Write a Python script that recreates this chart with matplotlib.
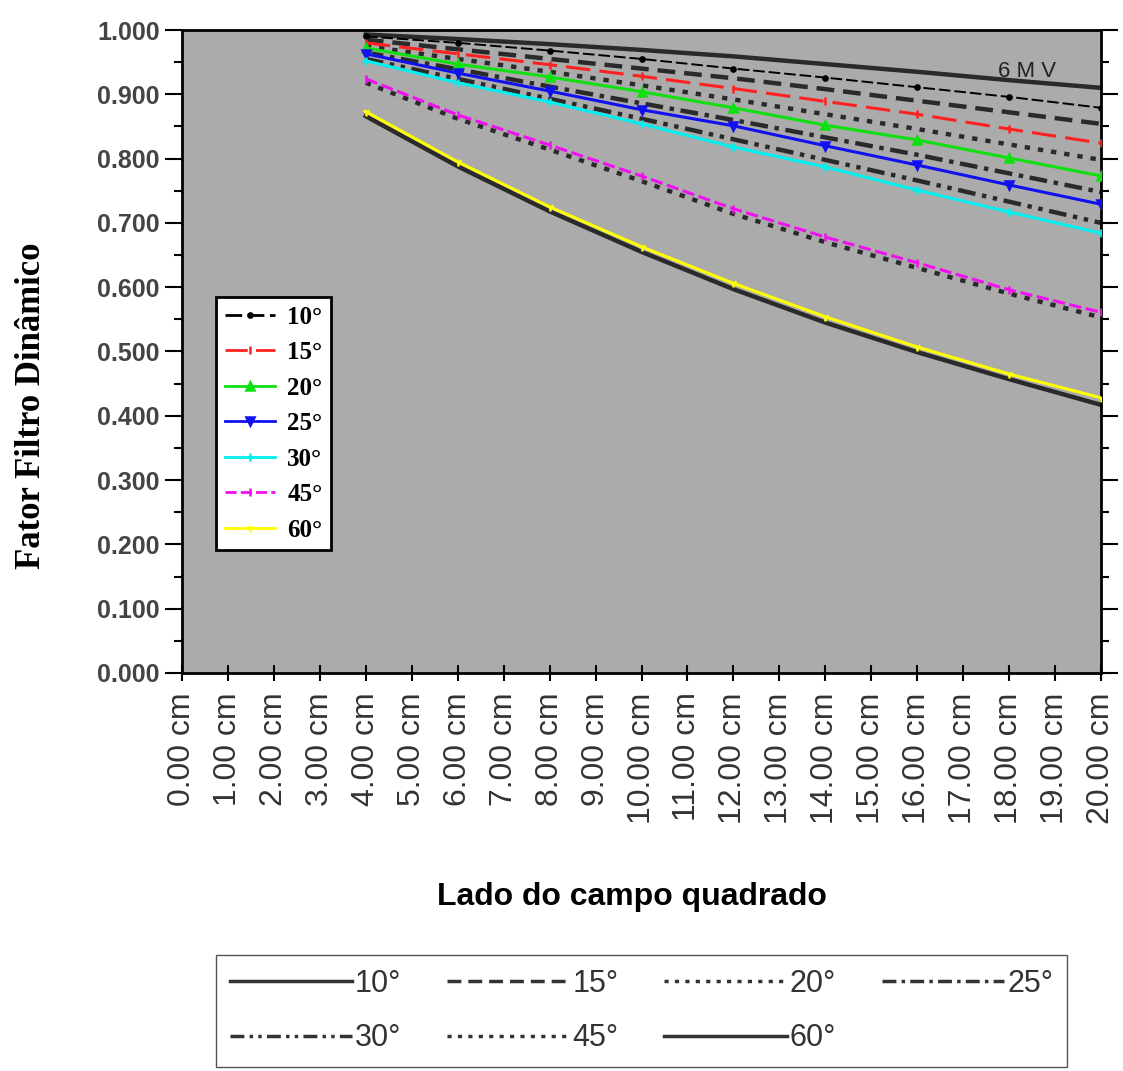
import matplotlib
matplotlib.use("Agg")
import matplotlib.pyplot as plt
from matplotlib.lines import Line2D
from matplotlib.ticker import MultipleLocator, FormatStrFormatter

# ---- data ----
x_cm = [4, 6, 8, 10, 12, 14, 16, 18, 20]
tick_labels = [f"{v:.2f} cm" for v in range(0, 21)]
angles = ["10°", "15°", "20°", "25°", "30°", "45°", "60°"]

# measured (coloured overlay) dynamic-wedge factors
ff_10 = [0.990, 0.980, 0.968, 0.955, 0.940, 0.926, 0.911, 0.896, 0.879]
ff_15 = [0.980, 0.963, 0.946, 0.928, 0.909, 0.889, 0.869, 0.846, 0.824]
ff_20 = [0.972, 0.947, 0.927, 0.904, 0.879, 0.852, 0.829, 0.801, 0.773]
ff_25 = [0.963, 0.933, 0.905, 0.876, 0.851, 0.820, 0.790, 0.759, 0.729]
ff_30 = [0.952, 0.918, 0.888, 0.854, 0.818, 0.787, 0.751, 0.717, 0.684]
ff_45 = [0.924, 0.868, 0.821, 0.773, 0.722, 0.678, 0.638, 0.596, 0.561]
ff_60 = [0.873, 0.795, 0.725, 0.663, 0.606, 0.554, 0.507, 0.465, 0.428]

# reference (original black) curves, 6 MV
ref_10 = [0.993, 0.986, 0.978, 0.969, 0.959, 0.947, 0.935, 0.922, 0.910]
ref_15 = [0.985, 0.970, 0.955, 0.940, 0.925, 0.908, 0.890, 0.872, 0.854]
ref_20 = [0.975, 0.955, 0.935, 0.914, 0.892, 0.869, 0.846, 0.822, 0.798]
ref_25 = [0.965, 0.939, 0.912, 0.886, 0.860, 0.833, 0.806, 0.777, 0.748]
ref_30 = [0.955, 0.924, 0.893, 0.862, 0.830, 0.798, 0.766, 0.733, 0.700]
ref_45 = [0.918, 0.862, 0.814, 0.765, 0.714, 0.670, 0.630, 0.590, 0.553]
ref_60 = [0.866, 0.788, 0.718, 0.655, 0.597, 0.545, 0.499, 0.457, 0.417]

measured = [ff_10, ff_15, ff_20, ff_25, ff_30, ff_45, ff_60]
reference = [ref_10, ref_15, ref_20, ref_25, ref_30, ref_45, ref_60]

colors = ["black", "#ff2020", "#10e010", "#1010f0", "#00f0f0", "#f010f0", "#ffff00"]
markers = [".", "|", "^", "v", "+", "|", "1"]
meas_styles = [(0, (6, 2)), (0, (8, 3)), "-", "-", "-", (0, (4, 1.5)), "-"]
ref_styles = ["-", (0, (4, 2)), (0, (1.2, 1.8)), (0, (4, 1.5, 1, 1.5)),
              (0, (4, 1.5, 1, 1.5, 1, 1.5)), (0, (1.2, 1.8)), "-"]

# ---- figure ----
fig = plt.figure(figsize=(11.23, 10.71), dpi=100)
ax = fig.add_axes([182 / 1123, 1 - 673 / 1071, (1101 - 182) / 1123, (673 - 30) / 1071])
ax.set_facecolor("#ababab")

for ys, ls in zip(reference, ref_styles):
    ax.plot(x_cm, ys, color="#2a2a2a", lw=3.2, linestyle=ls, zorder=2)

for ys, c, m, ls in zip(measured, colors, markers, meas_styles):
    lw = 1.4 if c == "black" else 2.2
    ax.plot(x_cm, ys, color=c, lw=lw, linestyle=ls, marker=m, markersize=6,
            markeredgewidth=1.8, zorder=3)

ax.text(18.4, 0.935, "6 M V", fontsize=16, color="#222222", ha="center",
        va="center", family="Liberation Sans", zorder=4)

ax.set_xlim(0, 20)
ax.set_ylim(0, 1.0)
ax.set_xticks(range(0, 21))
ax.set_xticklabels(tick_labels, rotation=90, fontsize=23, color="#333333",
                   family="Liberation Sans")
ax.yaxis.set_major_locator(MultipleLocator(0.1))
ax.yaxis.set_minor_locator(MultipleLocator(0.05))
ax.yaxis.set_major_formatter(FormatStrFormatter("%.3f"))
for lab in ax.get_yticklabels():
    lab.set_fontsize(18)
    lab.set_color("#444444")
    lab.set_family("Liberation Sans")
    lab.set_fontweight("bold")
ax.tick_params(axis="y", which="major", direction="out", length=12, width=1.5, pad=4)
ax.tick_params(axis="y", which="minor", direction="out", length=6, width=1.5)
ax.tick_params(axis="y", which="both", right=True, labelright=False)
ax.tick_params(axis="x", which="major", direction="inout", length=12, width=1.5, pad=8)
for s in ax.spines.values():
    s.set_linewidth(2)

ax.set_ylabel("Fator Filtro Dinâmico", fontsize=25, fontweight="bold",
              family="Liberation Serif")
ax.yaxis.set_label_coords(-0.146, 0.415)
ax.set_xlabel("Lado do campo quadrado", fontsize=23, fontweight="bold",
              family="Liberation Sans")
ax.xaxis.set_label_coords(0.49, -0.325)

# coloured legend inside the axes
handles_in = [Line2D([], [], color=c, marker=m, linestyle=ls, lw=2, markersize=6,
                     markeredgewidth=1.8)
              for c, m, ls in zip(colors, markers, meas_styles)]
leg_in = ax.legend(handles_in, angles, loc="upper left",
                   bbox_to_anchor=(0.037, 0.585), borderaxespad=0,
                   frameon=True, fancybox=False, edgecolor="black",
                   facecolor="white", framealpha=1, handlelength=2.0,
                   labelspacing=0.5, borderpad=0.35, handletextpad=0.5,
                   prop={"family": "Liberation Serif", "weight": "bold", "size": 18})
leg_in.get_frame().set_linewidth(2)

# original black legend below the chart (row-wise order)
order = [0, 4, 1, 5, 2, 6, 3]
handles_out = [Line2D([], [], color="#333333", lw=2.5, linestyle=ref_styles[i])
               for i in order]
labels_out = [angles[i] for i in order]
leg_out = fig.legend(handles_out, labels_out, loc="upper left",
                     bbox_to_anchor=(216 / 1123, 1 - 955 / 1071), ncol=4,
                     borderaxespad=0,
                     frameon=True, fancybox=False, edgecolor="#555555",
                     facecolor="white", framealpha=1, handlelength=4.0,
                     columnspacing=1.5, handletextpad=0.1, labelspacing=0.8,
                     borderpad=0.45,
                     prop={"family": "Liberation Sans", "size": 22})
for t in leg_out.get_texts():
    t.set_color("#333333")

fig.savefig("out.png", dpi=100)
